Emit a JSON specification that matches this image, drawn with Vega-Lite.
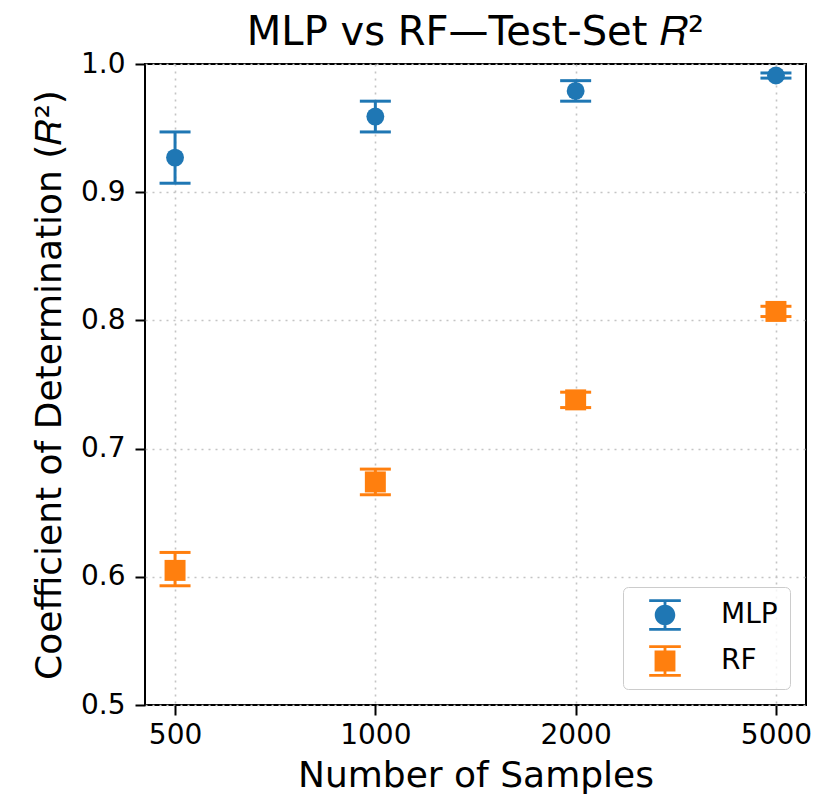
{
  "$schema": "https://vega.github.io/schema/vega-lite/v6.json",
  "width": 661,
  "height": 641,
  "autosize": {"type": "none"},
  "padding": {"left": 145, "top": 64, "right": 12, "bottom": 94},
  "background": "white",
  "title": {"text": "MLP vs RF—Test-Set 𝑅²", "fontSize": 40, "font": "DejaVu Sans", "fontWeight": "normal", "color": "black", "offset": -3, "anchor": "middle"},
  "config": {
    "font": "DejaVu Sans",
    "view": {"stroke": "black", "strokeWidth": 2},
    "axis": {
      "domain": false,
      "labelFont": "DejaVu Sans", "labelFontSize": 28, "labelColor": "black",
      "titleFont": "DejaVu Sans", "titleFontSize": 36, "titleFontWeight": "normal", "titleColor": "black",
      "tickColor": "black", "tickSize": 10, "tickWidth": 2,
      "grid": true, "gridColor": "#c4c4c4", "gridDash": [2, 5], "gridWidth": 1.6
    }
  },
  "data": {"values": [
    {"n": "500", "model": "MLP", "r2": 0.927, "lo": 0.907, "hi": 0.947},
    {"n": "1000", "model": "MLP", "r2": 0.959, "lo": 0.947, "hi": 0.971},
    {"n": "2000", "model": "MLP", "r2": 0.979, "lo": 0.971, "hi": 0.987},
    {"n": "5000", "model": "MLP", "r2": 0.991, "lo": 0.989, "hi": 0.993},
    {"n": "500", "model": "RF", "r2": 0.605, "lo": 0.593, "hi": 0.619},
    {"n": "1000", "model": "RF", "r2": 0.674, "lo": 0.664, "hi": 0.684},
    {"n": "2000", "model": "RF", "r2": 0.738, "lo": 0.732, "hi": 0.744},
    {"n": "5000", "model": "RF", "r2": 0.807, "lo": 0.803, "hi": 0.811}
  ]},
  "encoding": {
    "x": {"field": "n", "type": "ordinal", "sort": ["500", "1000", "2000", "5000"],
      "scale": {"type": "point", "padding": 0.15},
      "axis": {"title": "Number of Samples", "labelAngle": 0, "labelPadding": 6, "titlePadding": 9}},
    "color": {"field": "model", "type": "nominal", "scale": {"domain": ["MLP", "RF"], "range": ["#1f77b4", "#ff7f0e"]},
      "legend": {
          "title": null, "orient": "bottom-right", "offset": 16,
          "labelFontSize": 28, "labelFont": "DejaVu Sans", "labelColor": "black",
          "symbolSize": 1000, "symbolOpacity": 1, "symbolStrokeWidth": 0,
          "labelOffset": 40, "rowPadding": 14, "padding": 12,
          "strokeColor": "#cccccc", "fillColor": "rgba(255,255,255,0.8)", "cornerRadius": 5,
          "symbolOffset": 14
        }}
  },
  "layer": [
    {
      "mark": {"type": "rule", "strokeWidth": 3, "opacity": 1},
      "encoding": {
        "y": {"field": "lo", "type": "quantitative", "scale": {"domain": [0.5, 1.0], "nice": false, "zero": false},
          "axis": {"title": "Coefficient of Determination (𝑅²)", "values": [0.5, 0.6, 0.7, 0.8, 0.9, 1.0], "format": ".1f", "labelPadding": 10, "titlePadding": 12}},
        "y2": {"field": "hi"}
      }
    },
    {
      "mark": {"type": "tick", "thickness": 3, "size": 31, "orient": "horizontal", "opacity": 1},
      "encoding": {"y": {"field": "lo", "type": "quantitative"}}
    },
    {
      "mark": {"type": "tick", "thickness": 3, "size": 31, "orient": "horizontal", "opacity": 1},
      "encoding": {"y": {"field": "hi", "type": "quantitative"}}
    },
    {
      "mark": {"type": "point", "filled": true, "opacity": 1, "strokeWidth": 0},
      "encoding": {
        "y": {"field": "r2", "type": "quantitative"},
        "shape": {"condition": {"test": "datum.model === 'MLP'", "value": "circle"}, "value": "square"},
        "size": {"condition": {"test": "datum.model === 'MLP'", "value": 320}, "value": 440}
      }
    },
    {
      "mark": {"type": "point", "filled": true, "opacity": 0},
      "encoding": {
        "y": {"field": "r2", "type": "quantitative"},
        "shape": {"field": "model", "type": "nominal", "scale": {"domain": ["MLP", "RF"], "range": [
          "M-1,-1H1V-0.82H-1Z M-1,0.82H1V1H-1Z M-0.09,-0.82H0.09V0.82H-0.09Z M0,-0.65A0.65,0.65 0 1,1 0,0.65A0.65,0.65 0 1,1 0,-0.65Z",
          "M-1,-1H1V-0.82H-1Z M-1,0.82H1V1H-1Z M-0.09,-0.82H0.09V0.82H-0.09Z M-0.66,-0.66H0.66V0.66H-0.66Z"
        ]}, "legend": {"title": null, "symbolSize": 1000, "symbolOpacity": 1, "symbolStrokeWidth": 0}}
      }
    }
  ]
}
